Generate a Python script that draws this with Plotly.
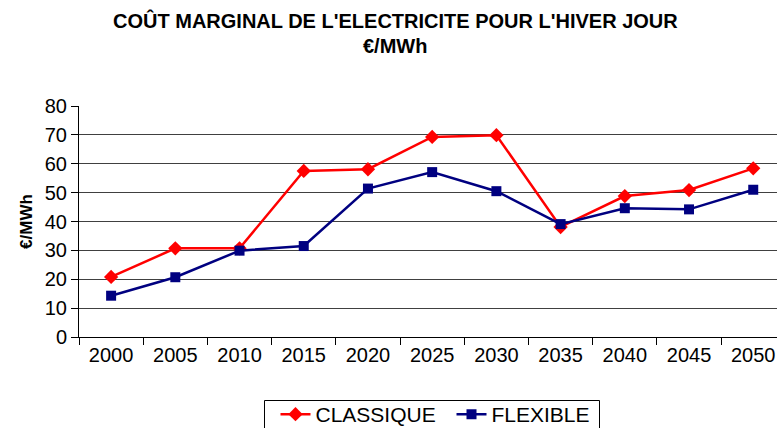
import plotly.graph_objects as go

years = ["2000", "2005", "2010", "2015", "2020", "2025", "2030", "2035", "2040", "2045", "2050"]
classique = [20.8, 30.7, 30.7, 57.5, 58.1, 69.3, 69.9, 38.1, 48.8, 50.9, 58.4]
flexible = [14.3, 20.7, 29.9, 31.5, 51.4, 57.1, 50.5, 39.1, 44.6, 44.2, 51.0]

title_lines = ["COÛT MARGINAL DE L'ELECTRICITE POUR L'HIVER JOUR", "€/MWh"]
y_title = "€/MWh"

font_family = "Liberation Sans, Arial, sans-serif"
W, H = 777, 428
L, R, T, B = 79, 0, 106, 91
plot_w = W - L - R
plot_h = H - T - B


def px_x(x):
    return (x - L) / plot_w


def px_y(y):
    return (H - B - y) / plot_h


fig = go.Figure()
fig.add_trace(go.Scatter(
    x=years, y=classique, name="CLASSIQUE", mode="lines+markers",
    line=dict(color="#ff0000", width=2.5),
    marker=dict(symbol="diamond", size=11, color="#ff0000"),
))
fig.add_trace(go.Scatter(
    x=years, y=flexible, name="FLEXIBLE", mode="lines+markers",
    line=dict(color="#000080", width=2.5),
    marker=dict(symbol="square", size=10, color="#000080"),
))

# two-line bold title
for line, y_px in zip(title_lines, [20.5, 45.5]):
    fig.add_annotation(
        text=f"<b>{line}</b>", xref="paper", yref="paper",
        x=px_x(395), y=px_y(y_px),
        xanchor="center", yanchor="middle", showarrow=False,
        font=dict(size=20, family=font_family, color="black"),
    )

# legend frame, running off the bottom edge of the page
fig.add_shape(
    type="rect", xref="paper", yref="paper",
    x0=px_x(264.5), x1=px_x(599.5), y0=px_y(440), y1=px_y(400.5),
    line=dict(color="black", width=1), fillcolor="rgba(0,0,0,0)",
)

fig.update_layout(
    width=W, height=H,
    margin=dict(l=L, r=R, t=T, b=B, autoexpand=False),
    paper_bgcolor="white", plot_bgcolor="white",
    font=dict(family=font_family, color="black", size=20),
    showlegend=True,
    legend=dict(
        orientation="h", x=px_x(451.5), xanchor="center",
        y=px_y(394), yanchor="top",
        bgcolor="rgba(0,0,0,0)", borderwidth=0,
        font=dict(size=21, family=font_family, color="black"),
        tracegroupgap=0, entrywidth=131, entrywidthmode="pixels",
    ),
)

fig.update_xaxes(
    type="category", range=[-0.5, 10.37],
    showline=True, linecolor="black", linewidth=1,
    ticks="outside", tickson="boundaries", ticklen=7, tickcolor="black",
    showgrid=False, tickfont=dict(size=20),
)
fig.update_yaxes(
    range=[0, 80], dtick=10,
    showline=True, linecolor="black", linewidth=1,
    ticks="outside", ticklen=7, tickcolor="black",
    showgrid=True, gridcolor="#404040", gridwidth=1,
    zeroline=False, tickfont=dict(size=20),
    title=dict(text=f"<b>{y_title}</b>", font=dict(size=17), standoff=7),
)

fig.write_html("out.html")
